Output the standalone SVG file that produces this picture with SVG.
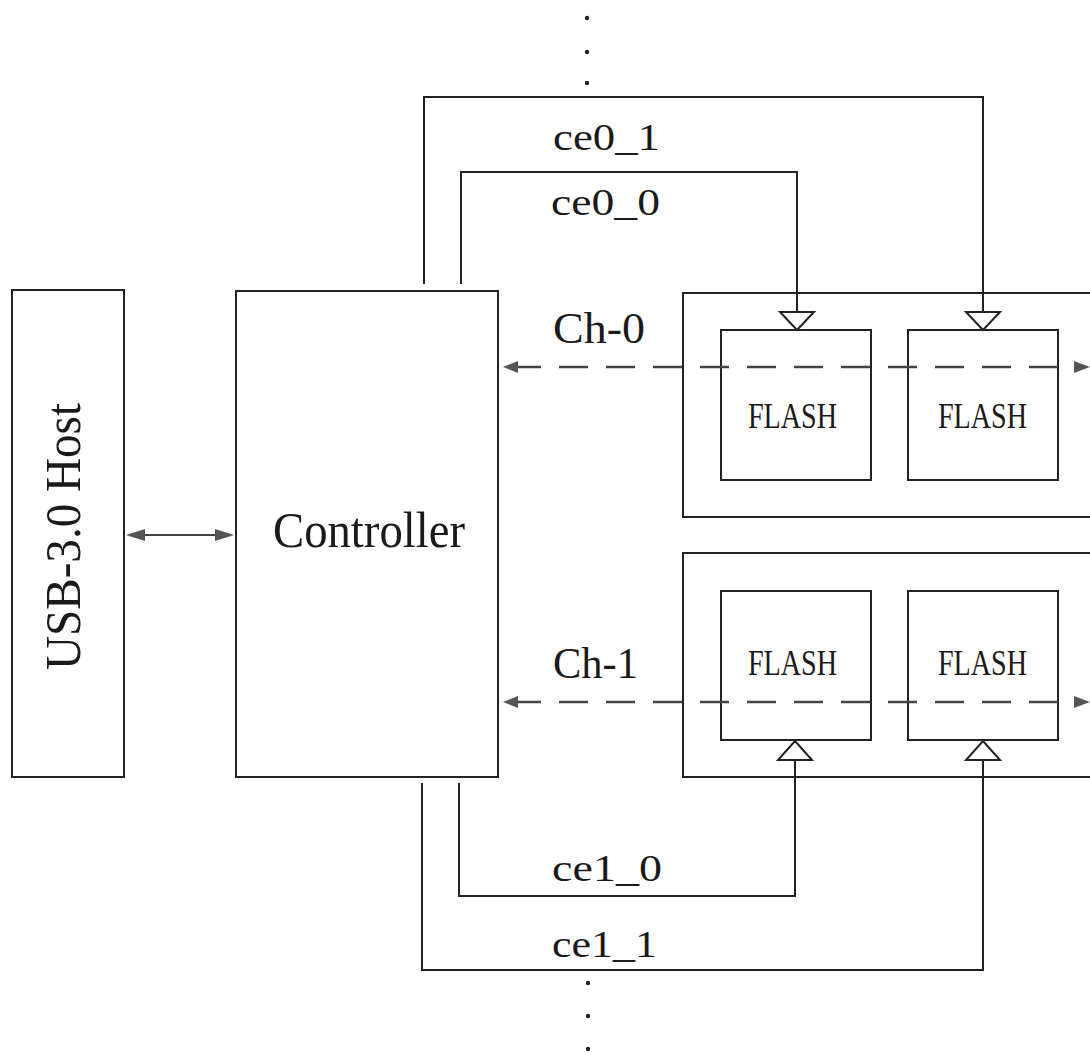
<svg xmlns="http://www.w3.org/2000/svg" width="1090" height="1060" viewBox="0 0 1090 1060">
<defs>
<style>
.box{fill:none;stroke:#222;stroke-width:2}
.wire{fill:none;stroke:#222;stroke-width:2}
.bus{fill:none;stroke:#444;stroke-width:2.5;stroke-dasharray:29 18}
.link{fill:none;stroke:#444;stroke-width:2}
.tri{fill:#fff;stroke:#222;stroke-width:2}
.dot{fill:#222}
.head{fill:#555}
text{font-family:"Liberation Serif","Times New Roman",serif;fill:#1a1a1a}
.lbl{font-size:38px}
.ch{font-size:45px}
.big{font-size:50px}
.fl{font-size:35px}
</style>
</defs>

<g id="usb-host">
<rect class="box" x="12" y="290" width="112" height="487"/>
<text class="big" transform="translate(80,670) rotate(-90)" textLength="267" lengthAdjust="spacingAndGlyphs">USB-3.0 Host</text>
</g>

<g id="controller">
<rect class="box" x="236" y="291" width="262" height="486"/>
<text class="big" x="273" y="547" textLength="192" lengthAdjust="spacingAndGlyphs">Controller</text>
</g>

<g id="ch0-group">
<rect class="box" x="683" y="293" width="420" height="224"/>
</g>
<g id="flash-0-0">
<rect class="box" x="721" y="330" width="150" height="150"/>
<text class="fl" x="748" y="428" textLength="89" lengthAdjust="spacingAndGlyphs">FLASH</text>
</g>
<g id="flash-0-1">
<rect class="box" x="908" y="330" width="150" height="150"/>
<text class="fl" x="938" y="428" textLength="89" lengthAdjust="spacingAndGlyphs">FLASH</text>
</g>

<g id="ch1-group">
<rect class="box" x="683" y="553" width="420" height="224"/>
</g>
<g id="flash-1-0">
<rect class="box" x="721" y="591" width="150" height="149"/>
<text class="fl" x="748" y="675" textLength="89" lengthAdjust="spacingAndGlyphs">FLASH</text>
</g>
<g id="flash-1-1">
<rect class="box" x="908" y="591" width="150" height="149"/>
<text class="fl" x="938" y="675" textLength="89" lengthAdjust="spacingAndGlyphs">FLASH</text>
</g>

<g id="connectors">
<path class="link" d="M140,535 H220"/>
<polygon class="head" points="126,535 145,529 145,541"/>
<polygon class="head" points="234,535 215,529 215,541"/>

<path class="bus" d="M512,367 H1080"/>
<polygon class="head" points="503,367 518,361 518,373"/>
<polygon class="head" points="1090,367 1074,361 1074,373"/>
<path class="bus" d="M512,702 H1080"/>
<polygon class="head" points="503,702 518,696 518,708"/>
<polygon class="head" points="1090,702 1074,696 1074,708"/>

<path class="wire" d="M424,284 V97 H983 V312"/>
<polygon class="tri" points="966,312 1000,312 983,330"/>
<path class="wire" d="M461,284 V172 H797 V312"/>
<polygon class="tri" points="780,312 814,312 797,330"/>
<path class="wire" d="M459,783 V896 H795 V760"/>
<polygon class="tri" points="778,760 812,760 795,741"/>
<path class="wire" d="M422,783 V970 H983 V760"/>
<polygon class="tri" points="966,760 1000,760 983,741"/>

<circle class="dot" cx="587" cy="18" r="2.2"/>
<circle class="dot" cx="587" cy="52" r="2.2"/>
<circle class="dot" cx="587" cy="83" r="2.2"/>
<circle class="dot" cx="588" cy="983" r="2.2"/>
<circle class="dot" cx="588" cy="1016" r="2.2"/>
<circle class="dot" cx="588" cy="1049" r="2.2"/>
</g>

<g id="labels">
<text class="lbl" x="553" y="150" textLength="107" lengthAdjust="spacingAndGlyphs">ce0_1</text>
<text class="lbl" x="551" y="215" textLength="109" lengthAdjust="spacingAndGlyphs">ce0_0</text>
<text class="ch" x="553" y="343" textLength="92" lengthAdjust="spacingAndGlyphs">Ch-0</text>
<text class="ch" x="553" y="678" textLength="85" lengthAdjust="spacingAndGlyphs">Ch-1</text>
<text class="lbl" x="552" y="881" textLength="110" lengthAdjust="spacingAndGlyphs">ce1_0</text>
<text class="lbl" x="552" y="957" textLength="105" lengthAdjust="spacingAndGlyphs">ce1_1</text>
</g>
</svg>
